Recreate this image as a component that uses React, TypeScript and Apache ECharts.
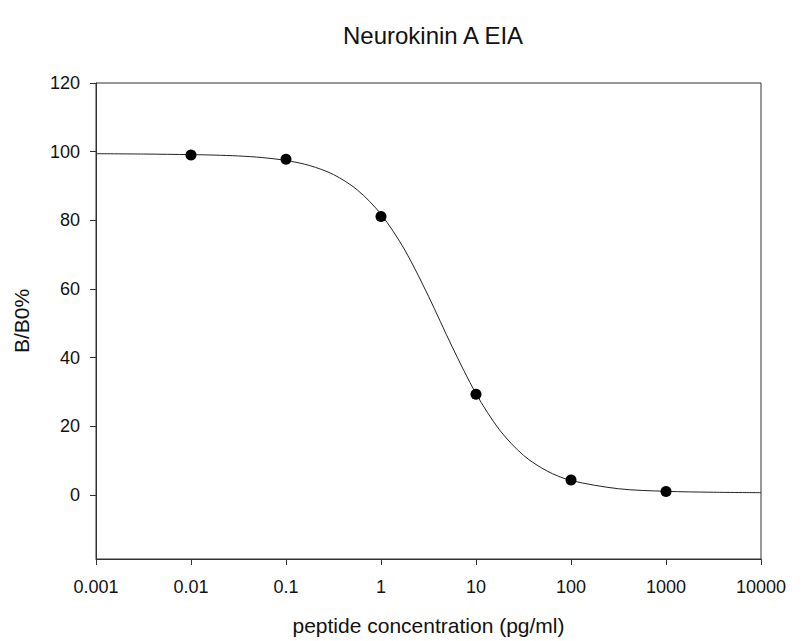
import React, { useEffect, useRef } from "react";
import * as echarts from "echarts";

const titleText = "Neurokinin A EIA";
const xAxisName = "peptide concentration (pg/ml)";
const yAxisName = "B/B0%";

// measured standards
const concentrations = [0.01, 0.1, 1, 10, 100, 1000];
const bB0Values = [99.0, 97.8, 81.1, 29.3, 4.3, 1.0];

// fitted curve at quarter / half decade positions
const curveX = [
  0.001, 0.00316, 0.01, 0.0178, 0.0316, 0.0562, 0.1, 0.178, 0.316, 0.562, 1,
  1.78, 3.16, 5.62, 10, 17.8, 31.6, 56.2, 100, 316, 1000, 3162, 10000,
];
const curveY = [
  99.4, 99.3, 99.13, 98.99, 98.74, 98.27, 97.43, 95.94, 93.33, 88.87, 81.77,
  71.34, 57.88, 43.1, 29.48, 18.82, 11.51, 6.91, 4.19, 1.77, 1.02, 0.75, 0.62,
];

const xTickValues = [0.001, 0.01, 0.1, 1, 10, 100, 1000, 10000];
const yTickValues = [0, 20, 40, 60, 80, 100, 120];

const FONT = "'Liberation Sans', Arial, sans-serif";

export default function App() {
  const ref = useRef<HTMLDivElement>(null);
  useEffect(() => {
    if (!ref.current) return;
    const chart = echarts.init(ref.current, undefined, { renderer: "svg" });
    const curve = curveX.map((x, i) => [x, curveY[i]]);
    const points = concentrations.map((x, i) => [x, bB0Values[i]]);
    chart.setOption({
      animation: false,
      backgroundColor: "#ffffff",
      title: {
        text: titleText,
        left: 428,
        textAlign: "center",
        top: 18,
        textStyle: {
          fontFamily: FONT,
          fontSize: 24,
          fontWeight: "normal",
          color: "#111",
        },
      },
      grid: {
        left: 96,
        right: 50,
        top: 83,
        bottom: 81,
        show: true,
        borderColor: "#333",
        borderWidth: 1,
        backgroundColor: "transparent",
      },
      xAxis: {
        type: "log",
        logBase: 10,
        min: 0.001,
        max: 10000,
        name: xAxisName,
        nameLocation: "middle",
        nameGap: 56,
        nameTextStyle: { fontFamily: FONT, fontSize: 21, color: "#111" },
        axisLine: { show: true, onZero: false, lineStyle: { color: "#333", width: 1 } },
        axisTick: {
          show: true,
          inside: false,
          length: 6,
          customValues: xTickValues,
          lineStyle: { color: "#333" },
        },
        minorTick: { show: false },
        splitLine: { show: false },
        axisLabel: {
          fontFamily: FONT,
          fontSize: 18,
          color: "#111",
          margin: 19,
          customValues: xTickValues,
          formatter: (v: number) => String(v),
        },
      },
      yAxis: {
        type: "value",
        min: -18.7,
        max: 120,
        name: yAxisName,
        nameLocation: "middle",
        nameGap: 64,
        nameRotate: 90,
        nameTextStyle: { fontFamily: FONT, fontSize: 21, color: "#111" },
        axisLine: { show: true, onZero: false, lineStyle: { color: "#333", width: 1 } },
        axisTick: {
          show: true,
          inside: false,
          length: 6,
          customValues: yTickValues,
          lineStyle: { color: "#333" },
        },
        splitLine: { show: false },
        axisLabel: {
          fontFamily: FONT,
          fontSize: 18,
          color: "#111",
          margin: 16,
          customValues: yTickValues,
        },
      },
      series: [
        {
          type: "line",
          data: curve,
          smooth: 0.3,
          showSymbol: false,
          symbol: "none",
          lineStyle: { color: "#222", width: 1 },
          z: 2,
        },
        {
          type: "scatter",
          data: points,
          symbol: "circle",
          symbolSize: 11,
          itemStyle: { color: "#000", opacity: 1 },
          z: 3,
        },
      ],
    });
    return () => chart.dispose();
  }, []);
  return (
    <div
      ref={ref}
      style={{ position: "absolute", left: 0, top: 0, width: 811, height: 641, background: "#fff" }}
    />
  );
}
